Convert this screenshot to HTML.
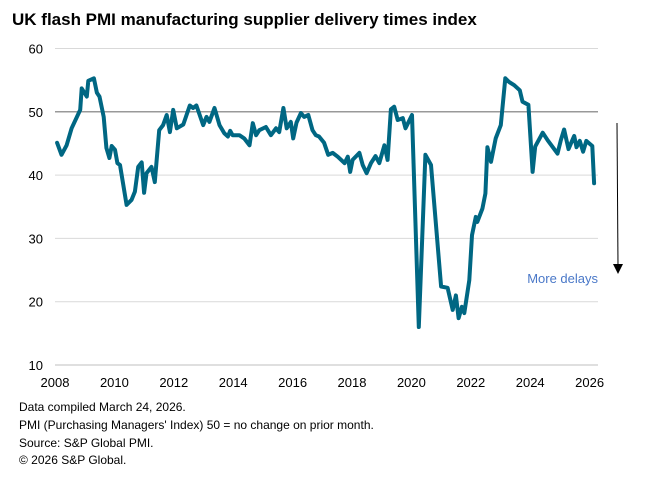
<!DOCTYPE html>
<html><head><meta charset="utf-8"><style>
body{margin:0;background:#fff;font-family:"Liberation Sans",Arial,sans-serif;}
#wrap{position:relative;width:645px;height:478px;overflow:hidden;}
.title{position:absolute;left:12px;top:10px;font-size:17px;font-weight:bold;color:#000;}
.note{position:absolute;left:19px;font-size:12px;color:#000;}
</style></head><body>
<div id="wrap">
<div class="title">UK flash PMI manufacturing supplier delivery times index</div>
<svg id="chart" width="645" height="478" style="position:absolute;left:0;top:0"></svg>
<div class="note" style="top:400px">Data compiled March 24, 2026.</div>
<div class="note" style="top:418px">PMI (Purchasing Managers' Index) 50 = no change on prior month.</div>
<div class="note" style="top:436px">Source: S&amp;P Global PMI.</div>
<div class="note" style="top:453px">© 2026 S&amp;P Global.</div>
</div>
<script>
const yTicks=[10,20,30,40,50,60];
const xTicks=[2008,2010,2012,2014,2016,2018,2020,2022,2024,2026];
const dates=[2008.07,2008.22,2008.39,2008.56,2008.85,2008.9,2009.07,2009.12,2009.31,2009.41,2009.5,2009.64,2009.73,2009.83,2009.91,2010.02,2010.1,2010.19,2010.41,2010.58,2010.69,2010.8,2010.92,2011.0,2011.08,2011.25,2011.36,2011.51,2011.64,2011.76,2011.87,2011.98,2012.1,2012.32,2012.54,2012.65,2012.76,2012.99,2013.1,2013.2,2013.37,2013.54,2013.7,2013.82,2013.9,2013.98,2014.21,2014.37,2014.55,2014.66,2014.77,2014.88,2015.1,2015.27,2015.44,2015.55,2015.69,2015.8,2015.94,2016.02,2016.13,2016.28,2016.39,2016.53,2016.67,2016.78,2016.89,2017.06,2017.2,2017.35,2017.52,2017.75,2017.86,2017.94,2018.02,2018.25,2018.36,2018.49,2018.64,2018.79,2018.92,2019.09,2019.2,2019.31,2019.42,2019.54,2019.71,2019.8,2020.02,2020.25,2020.47,2020.66,2021.0,2021.22,2021.39,2021.5,2021.59,2021.7,2021.78,2021.95,2022.04,2022.17,2022.22,2022.39,2022.49,2022.56,2022.68,2022.84,2023.01,2023.16,2023.29,2023.46,2023.65,2023.74,2023.94,2024.08,2024.17,2024.42,2024.59,2024.92,2025.03,2025.14,2025.29,2025.48,2025.56,2025.67,2025.78,2025.89,2026.09,2026.15];
const values=[45.1,43.2,44.7,47.4,50.3,53.7,52.4,54.9,55.3,53,52.4,49.2,44.3,42.7,44.6,44,41.9,41.6,35.3,36.1,37.4,41.3,42,37.2,40.3,41.3,38.9,47.1,47.9,49.5,46.8,50.3,47.4,48,51,50.6,51,47.9,49.2,48.4,50.6,47.9,46.6,46.1,47,46.3,46.3,45.8,44.7,48.2,46.3,47.1,47.6,46.3,47.4,46.8,50.6,47.4,48.4,45.8,48.3,49.8,49.2,49.5,47.1,46.3,46.1,45.1,43.2,43.5,42.9,41.9,42.9,40.5,42.4,43.5,41.6,40.3,41.9,43,41.9,44.7,42.4,50.4,50.8,48.7,49,47.4,49.5,16,43.2,41.6,22.4,22.2,18.7,21,17.4,19.2,18.2,23.4,30.5,33.4,32.6,34.7,37.1,44.4,42.1,45.8,47.9,55.3,54.7,54.2,53.4,51.6,51.1,40.5,44.5,46.7,45.5,43.4,45.5,47.2,44.1,46.2,44.4,45.4,43.7,45.4,44.6,38.7];
const NS='http://www.w3.org/2000/svg';
const svg=document.getElementById('chart');
const X0=55,X1=598;
function xs(t){return 55+(t-2008)*29.7;}
function ys(v){return 365-(v-10)*6.33;}
function mk(tag,attrs){const e=document.createElementNS(NS,tag);for(const k in attrs)e.setAttribute(k,attrs[k]);svg.appendChild(e);return e;}
yTicks.forEach(v=>{
  if(v>10){
    const g=mk('line',{x1:X0,x2:X1,y1:ys(v),y2:ys(v),stroke:v===50?'#999':'#d9d9d9','stroke-width':v===50?1.5:1});
    
    
  }
  const t=mk('text',{x:43,y:ys(v)+5,'text-anchor':'end','font-size':13,fill:'#000','font-family':'Liberation Sans, sans-serif'});
  t.textContent=v;
  
  
});
const ax=mk('line',{x1:X0,x2:X1,y1:365,y2:365,stroke:'#bfbfbf','stroke-width':1});


xTicks.forEach(v=>{
  const t=mk('text',{x:xs(v),y:387,'text-anchor':'middle','font-size':13,fill:'#000','font-family':'Liberation Sans, sans-serif'});
  t.textContent=v;
  
  
});
const d=dates.map((t,i)=>(i?'L':'M')+xs(t).toFixed(1)+','+ys(values[i]).toFixed(1)).join(' ');
const p=mk('path',{d:d,fill:'none',stroke:'#006783','stroke-width':4,'stroke-linejoin':'round','stroke-linecap':'round'});


const ar=mk('line',{x1:617,x2:618,y1:123,y2:266,stroke:'#000','stroke-width':1});


const ah=mk('path',{d:'M613,264 L623,264 L618,274 Z',fill:'#000'});


const md=mk('text',{x:598,y:283,'text-anchor':'end','font-size':13,fill:'#4a78c8','font-family':'Liberation Sans, sans-serif'});
md.textContent='More delays';


</script>
</body></html>
